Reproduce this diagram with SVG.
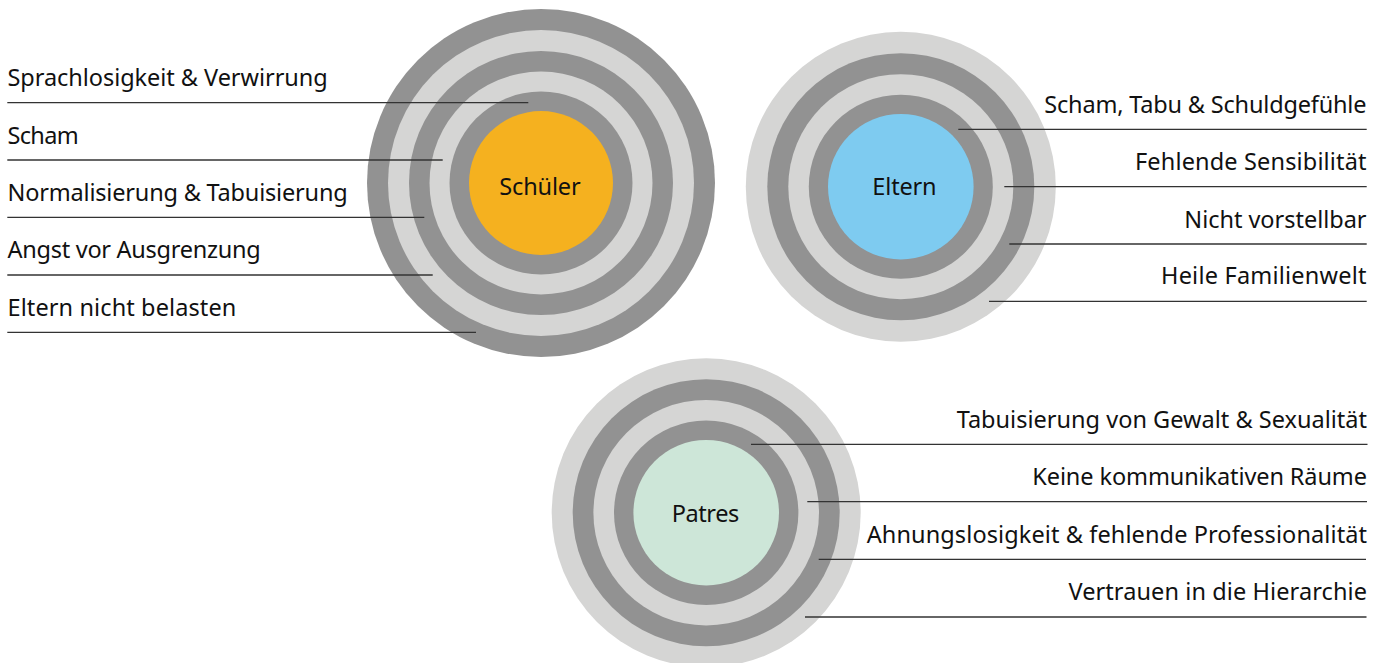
<svg xmlns="http://www.w3.org/2000/svg" width="1385" height="663" viewBox="0 0 1385 663">
  <style>
    .dk { fill: #929292; }
    .lt { fill: #d5d5d4; }
    .lbl { font-family: "Noto Sans", "Open Sans", sans-serif; font-size: 23.5px; fill: #111111; }
    .ctr { font-family: "Noto Sans", "Open Sans", sans-serif; font-size: 23.5px; fill: #111111; text-anchor: middle; }
    .end { text-anchor: end; }
    .conn line { stroke: #333333; stroke-width: 1.3; }
  </style>
  <rect width="1385" height="663" fill="#ffffff"/>

  <g id="node-schueler">
    <circle class="dk" cx="541" cy="183" r="174"/>
    <circle class="lt" cx="541" cy="183" r="153"/>
    <circle class="dk" cx="541" cy="183" r="132"/>
    <circle class="lt" cx="541" cy="183" r="111.5"/>
    <circle class="dk" cx="541" cy="183" r="91.5"/>
    <circle cx="541" cy="183" r="72" fill="#f5b11f"/>
    <text class="ctr" x="540" y="195" textLength="81.4">Schüler</text>
  </g>

  <g id="node-eltern">
    <circle class="lt" cx="900.8" cy="186.7" r="155"/>
    <circle class="dk" cx="900.8" cy="186.7" r="133.5"/>
    <circle class="lt" cx="900.8" cy="186.7" r="112.5"/>
    <circle class="dk" cx="900.8" cy="186.7" r="92"/>
    <circle cx="900.8" cy="186.7" r="72.8" fill="#7ecbf0"/>
    <text class="ctr" x="904.5" y="195" textLength="64.3">Eltern</text>
  </g>

  <g id="node-patres">
    <circle class="lt" cx="706.2" cy="512.7" r="154.5"/>
    <circle class="dk" cx="706.2" cy="512.7" r="133.5"/>
    <circle class="lt" cx="706.2" cy="512.7" r="112.8"/>
    <circle class="dk" cx="706.2" cy="512.7" r="92.2"/>
    <circle cx="706.2" cy="512.7" r="72.8" fill="#cde6d8"/>
    <text class="ctr" x="705.5" y="521.7" textLength="67.7">Patres</text>
  </g>

  <g id="connectors" class="conn">
    <line x1="7.3" y1="102.7" x2="528.3" y2="102.7"/>
    <line x1="7.3" y1="160" x2="442.7" y2="160"/>
    <line x1="7.3" y1="217.3" x2="424.3" y2="217.3"/>
    <line x1="7.3" y1="275" x2="432.7" y2="275"/>
    <line x1="7.3" y1="332.3" x2="476" y2="332.3"/>

    <line x1="958.3" y1="129.3" x2="1366.7" y2="129.3"/>
    <line x1="1004.3" y1="186.7" x2="1366.7" y2="186.7"/>
    <line x1="1009.3" y1="244" x2="1366.7" y2="244"/>
    <line x1="989" y1="301.3" x2="1366.7" y2="301.3"/>

    <line x1="751" y1="444.3" x2="1367.5" y2="444.3"/>
    <line x1="807.3" y1="501.7" x2="1367" y2="501.7"/>
    <line x1="818.7" y1="559.3" x2="1366" y2="559.3"/>
    <line x1="805" y1="617" x2="1366.5" y2="617"/>
  </g>

  <g id="labels-schueler">
    <text class="lbl" x="7.5" y="86" textLength="320.2">Sprachlosigkeit &amp; Verwirrung</text>
    <text class="lbl" x="7.5" y="144" textLength="71.2">Scham</text>
    <text class="lbl" x="7.5" y="200.5" textLength="340.2">Normalisierung &amp; Tabuisierung</text>
    <text class="lbl" x="7.5" y="258" textLength="253.2">Angst vor Ausgrenzung</text>
    <text class="lbl" x="7.5" y="315.5" textLength="228.8">Eltern nicht belasten</text>
  </g>

  <g id="labels-eltern">
    <text class="lbl end" x="1366.5" y="113.3" textLength="322.2">Scham, Tabu &amp; Schuldgefühle</text>
    <text class="lbl end" x="1366.5" y="170" textLength="231.5">Fehlende Sensibilität</text>
    <text class="lbl end" x="1366.5" y="227.7" textLength="182.2">Nicht vorstellbar</text>
    <text class="lbl end" x="1366.5" y="284.3" textLength="205.5">Heile Familienwelt</text>
  </g>

  <g id="labels-patres">
    <text class="lbl end" x="1367" y="427.7" textLength="410.3">Tabuisierung von Gewalt &amp; Sexualität</text>
    <text class="lbl end" x="1367" y="485" textLength="334.7">Keine kommunikativen Räume</text>
    <text class="lbl end" x="1367" y="542.7" textLength="500.3">Ahnungslosigkeit &amp; fehlende Professionalität</text>
    <text class="lbl end" x="1367" y="600" textLength="298.6">Vertrauen in die Hierarchie</text>
  </g>
</svg>
